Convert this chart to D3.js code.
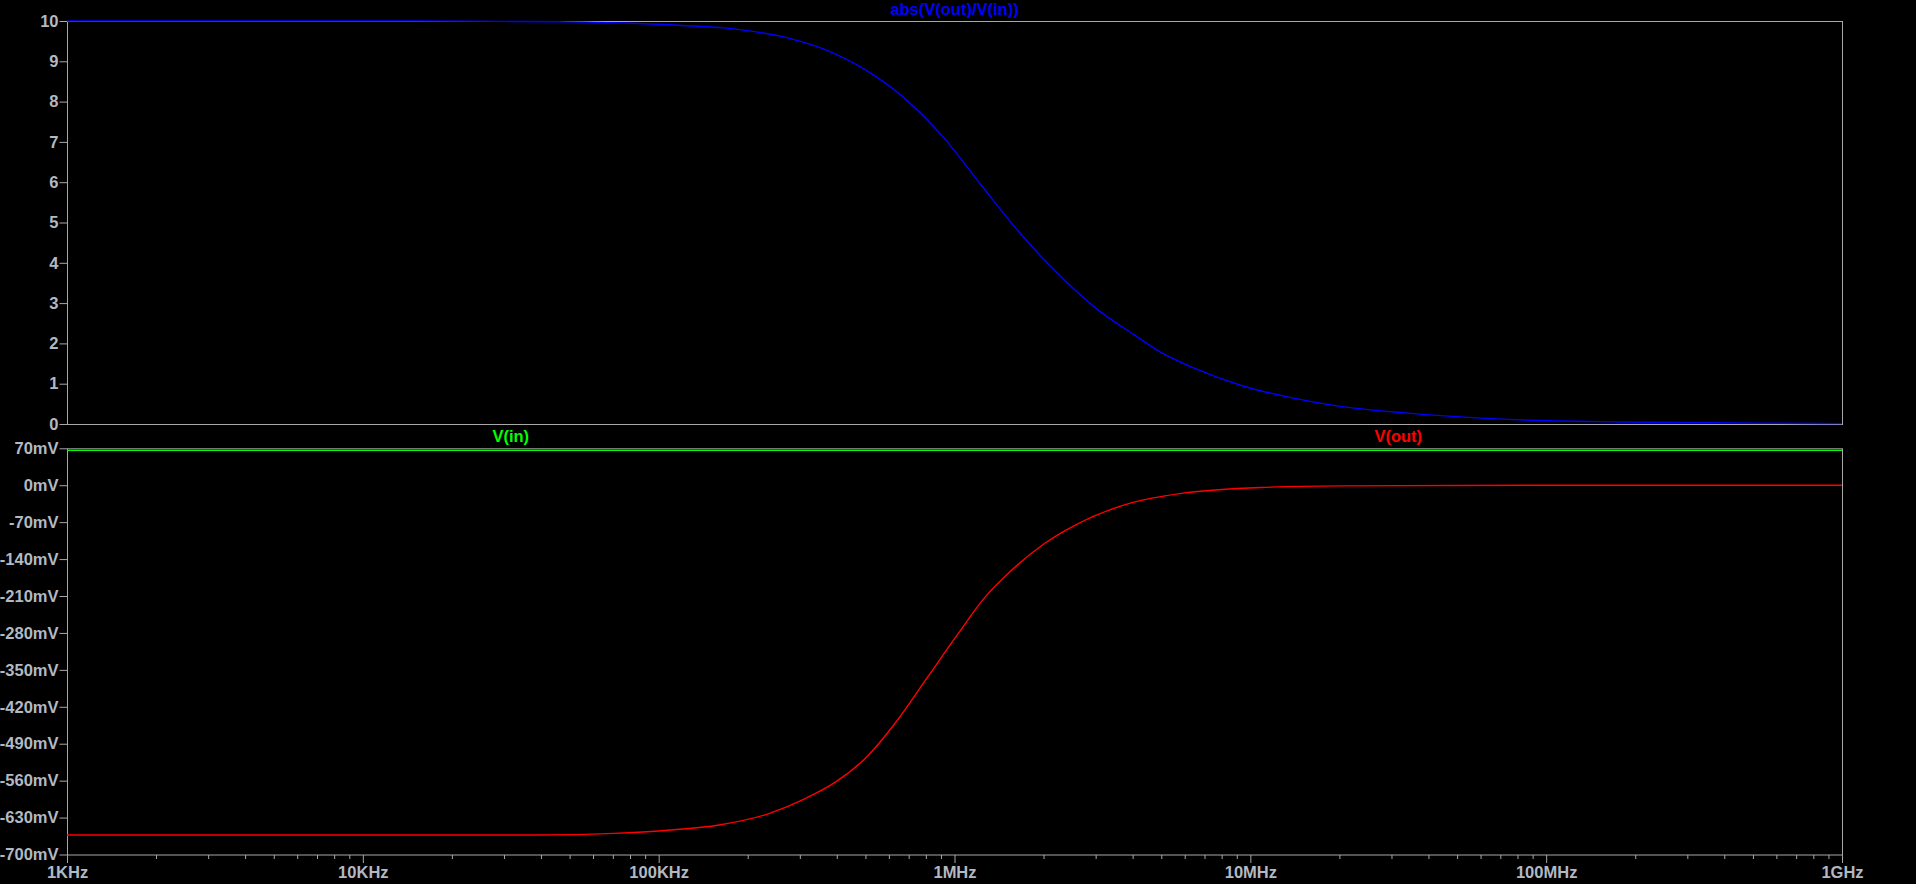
<!DOCTYPE html>
<html>
<head>
<meta charset="utf-8">
<script src="https://cdn.jsdelivr.net/npm/d3@7"></script>
<style>
  html, body { margin: 0; padding: 0; background: #000; overflow: hidden; }
  svg { display: block; }
  text { font-family: "Liberation Sans", Arial, sans-serif; font-weight: bold; }
</style>
</head>
<body>
<script>
var gainFreq = [1e3, 1e4, 3e4, 4.6e4, 7.8e4, 1.2e5, 1.67e5, 2.05e5, 2.77e5, 3.74e5, 5.02e5, 6.78e5,
                9.13e5, 1.23e6, 1.65e6, 2.23e6, 3.01e6, 4.05e6, 4.95e6, 6.49e6, 9.38e6, 1.36e7,
                1.96e7, 3.4e7, 7.1e7, 1.79e8, 5.4e8, 1e9];
var gainValues = [10, 10, 9.99, 9.98, 9.95, 9.89, 9.83, 9.75, 9.57, 9.26, 8.78, 8.08,
                  7.13, 5.93, 4.77, 3.74, 2.87, 2.21, 1.79, 1.38, 0.95, 0.66,
                  0.45, 0.27, 0.12, 0.05, 0.02, 0.01];

// lower pane, values in mV
var vinFreq = [1e3, 1e9];
var vinValues = [66, 66];
var voutFreq = [1e3, 1e4, 3.97e4, 7.06e4, 1.07e5, 1.6e5, 2.37e5, 3.13e5, 3.98e5, 5.05e5, 6.4e5,
                8.13e5, 1.03e6, 1.26e6, 1.54e6, 2.02e6, 2.57e6, 3.98e6, 5.92e6, 1.12e7, 2.01e7,
                1e8, 1e9];
var voutValues = [-663, -663, -663, -660, -654, -644, -622, -594, -562, -515, -446,
                  -363, -281, -214, -164, -110, -75, -33, -15, -4, -1.3,
                  0, 0];

var xTickValues = [1e3, 1e4, 1e5, 1e6, 1e7, 1e8, 1e9];
var xTickLabels = ['1KHz', '10KHz', '100KHz', '1MHz', '10MHz', '100MHz', '1GHz'];
var topTicks = [0, 1, 2, 3, 4, 5, 6, 7, 8, 9, 10];
var bottomTicks = [70, 0, -70, -140, -210, -280, -350, -420, -490, -560, -630, -700];

var width = 1916, height = 884;
var left = 67, right = 1842;
var topPane = { top: 21, bottom: 424 };
var botPane = { top: 448.3, bottom: 854.5 };
var axisColor = '#a8a8a8';
var labelColor = '#b2b9c2';

var svg = d3.select('body').append('svg').attr('width', width).attr('height', height);

var x = d3.scaleLog().domain([1e3, 1e9]).range([left, right]);
var yTop = d3.scaleLinear().domain([0, 10]).range([topPane.bottom, topPane.top]);
var yBot = d3.scaleLinear().domain([-700, 70]).range([botPane.bottom, botPane.top]);

function frame(p) {
  svg.append('rect')
    .attr('x', left + 0.5).attr('y', p.top + 0.5)
    .attr('width', right - left).attr('height', p.bottom - p.top)
    .attr('fill', 'none').attr('stroke', axisColor).attr('stroke-width', 1);
}
frame(topPane);
frame(botPane);

function styleAxis(g) {
  g.select('.domain').remove();
  g.selectAll('line').attr('stroke', axisColor);
  g.selectAll('text').attr('fill', labelColor).style('font-size', '16.5px');
}

svg.append('g')
  .attr('transform', 'translate(' + (left + 0.5) + ',0)')
  .call(d3.axisLeft(yTop).tickValues(topTicks).tickSize(8).tickPadding(1).tickFormat(d3.format('d')))
  .call(styleAxis);

svg.append('g')
  .attr('transform', 'translate(' + (left + 0.5) + ',0)')
  .call(d3.axisLeft(yBot).tickValues(bottomTicks).tickSize(8).tickPadding(1)
    .tickFormat(function (d) { return d + 'mV'; }))
  .call(styleAxis);

// minor log ticks 2..9 in each decade
var minorTicks = [];
xTickValues.slice(0, -1).forEach(function (d) {
  for (var k = 2; k < 10; k++) minorTicks.push(d * k);
});

svg.append('g')
  .attr('transform', 'translate(0,' + (botPane.bottom + 0.5) + ')')
  .call(d3.axisBottom(x).tickValues(minorTicks).tickSize(4).tickFormat(''))
  .call(styleAxis);

var xAxis = svg.append('g')
  .attr('transform', 'translate(0,' + (botPane.bottom + 0.5) + ')')
  .call(d3.axisBottom(x).tickValues(xTickValues).tickSize(8)
    .tickFormat(function (d, i) { return xTickLabels[i]; }))
  .call(styleAxis);
xAxis.selectAll('text').attr('y', 17.5).attr('dy', '0.36em');

// traces
function trace(freq, vals, y, color) {
  var line = d3.line()
    .x(function (d) { return x(d[0]); })
    .y(function (d) { return y(d[1]); })
    .curve(d3.curveMonotoneX);
  svg.append('path')
    .datum(d3.zip(freq, vals))
    .attr('d', line)
    .attr('fill', 'none')
    .attr('stroke', color)
    .attr('stroke-width', 1.4);
}
trace(gainFreq, gainValues, yTop, '#0000ff');
trace(vinFreq, vinValues, yBot, '#00ff00');
trace(voutFreq, voutValues, yBot, '#ff0000');

// trace names
svg.append('text')
  .attr('x', (left + right) / 2).attr('y', 15)
  .attr('text-anchor', 'middle').attr('fill', '#0000ff')
  .style('font-size', '16.5px')
  .text('abs(V(out)/V(in))');

svg.append('text')
  .attr('x', left + (right - left) * 0.25).attr('y', 442)
  .attr('text-anchor', 'middle').attr('fill', '#00ff00')
  .style('font-size', '16.5px')
  .text('V(in)');

svg.append('text')
  .attr('x', left + (right - left) * 0.75).attr('y', 442)
  .attr('text-anchor', 'middle').attr('fill', '#ff0000')
  .style('font-size', '16.5px')
  .text('V(out)');
</script>
</body>
</html>
